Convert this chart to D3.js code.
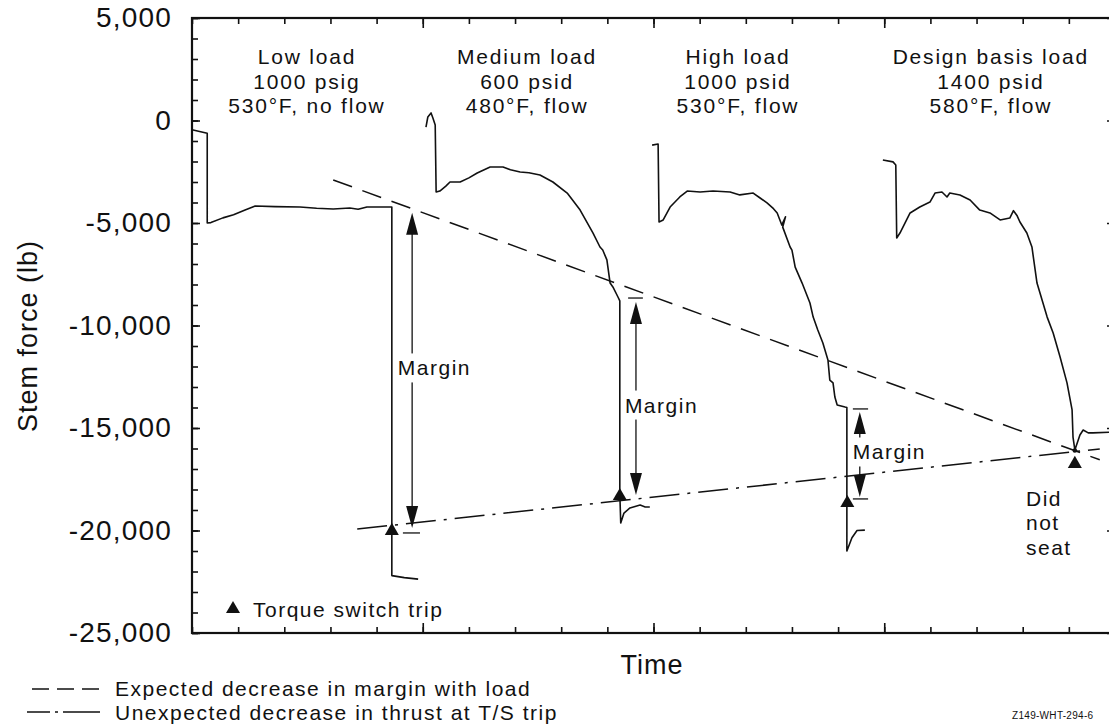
<!DOCTYPE html>
<html><head><meta charset="utf-8">
<script src="https://cdn.jsdelivr.net/npm/d3@7"></script>
<style>
body{margin:0;background:#fff}
svg{display:block}
text{font-family:"Liberation Sans",Arial,Helvetica,sans-serif;fill:#111}
</style>
</head><body>
<svg id="c" width="1109" height="725"></svg>
<script>
// ---------- data (time in arbitrary units, stem force in lb) ----------
const lowLoad = [[0,-450],[0.33,-620],[0.33,-5000],[0.41,-4980],[0.67,-4750],[0.9,-4600],[1.15,-4370],[1.37,-4170],[1.8,-4200],[2.34,-4220],[2.7,-4280],[3.06,-4320],[3.42,-4270],[3.6,-4330],[3.79,-4220],[4.33,-4220],[4.33,-22200],[4.6,-22300],[4.9,-22370]];
const mediumLoad = [[5.07,-320],[5.11,170],[5.18,370],[5.22,120],[5.27,-220],[5.29,-3490],[5.37,-3440],[5.5,-3200],[5.59,-3000],[5.81,-3000],[6.0,-2800],[6.18,-2560],[6.46,-2270],[6.74,-2270],[6.9,-2400],[7.11,-2510],[7.3,-2550],[7.54,-2660],[7.82,-3000],[8.13,-3540],[8.41,-4370],[8.69,-5490],[8.84,-6170],[8.9,-6320],[8.99,-6800],[9.06,-7930],[9.12,-8120],[9.23,-8610],[9.27,-8800],[9.27,-18200],[9.29,-19630],[9.36,-19150],[9.49,-18900],[9.71,-18760],[9.82,-18850],[9.92,-18850]];
const highLoad = [[9.97,-1200],[10.1,-1150],[10.12,-4950],[10.21,-4850],[10.36,-4220],[10.57,-3730],[10.73,-3440],[11.01,-3490],[11.29,-3440],[11.66,-3490],[11.87,-3630],[12.16,-3540],[12.31,-3780],[12.46,-4020],[12.6,-4300],[12.68,-4510],[12.78,-5100],[12.86,-4700],[12.8,-5200],[12.96,-6170],[13.0,-6320],[13.07,-7150],[13.22,-7930],[13.39,-8900],[13.46,-9590],[13.56,-10220],[13.67,-10850],[13.78,-11680],[13.82,-12660],[13.89,-12800],[13.93,-13490],[13.98,-13880],[14.15,-13980],[14.19,-14000],[14.19,-21000],[14.3,-20350],[14.41,-20000],[14.58,-19980]];
const designLoad = [[14.97,-1930],[15.19,-2020],[15.25,-2170],[15.27,-5730],[15.34,-5490],[15.56,-4510],[15.77,-4220],[15.99,-3980],[16.1,-3540],[16.25,-3490],[16.3,-3600],[16.36,-3730],[16.42,-3540],[16.64,-3630],[16.86,-3880],[17.07,-4370],[17.29,-4510],[17.51,-4850],[17.72,-4760],[17.8,-4400],[17.88,-4650],[17.94,-4950],[18.09,-5490],[18.2,-6170],[18.31,-7930],[18.53,-9590],[18.66,-10370],[18.81,-11540],[18.96,-12800],[19.07,-14120],[19.09,-15440],[19.13,-16070],[19.24,-15340],[19.31,-15100],[19.42,-15240],[19.52,-15240],[20,-15200]];
const expectedLine = [[3.06,-2900],[19.67,-16550]];
const unexpectedLine = [[3.58,-19930],[19.67,-16020]];
const tripPoints = [[4.33,-20020],[9.27,-18320],[14.2,-18660],[19.13,-16750]];
const marginArrows = [
  {t:4.77, top:-4500, bottom:-19880, barTop:null, barBottom:-20120, barFrom:4.57, barTo:4.94, labelV:-12070, labelT:4.46},
  {t:9.62, top:-8850, bottom:-18270, barTop:-8660, barBottom:null, barFrom:9.45, barTo:9.77, labelV:-13880, labelT:9.38},
  {t:14.47, top:-14220, bottom:-18370, barTop:-14070, barBottom:-18460, barFrom:14.32, barTo:14.65, labelV:-16170, labelT:14.32}
];
const loadLabels = [["Low load","1000 psig","530°F, no flow"],["Medium load","600 psid","480°F, flow"],["High load","1000 psid","530°F, flow"],["Design basis load","1400 psid","580°F, flow"]];
const loadLabelTime = [2.49, 7.26, 11.83, 17.31];
const loadLabelForce = 3100;
const yMajorTicks = [5000,0,-5000,-10000,-15000,-20000,-25000];
const yMinorTicks = d3.range(-25000, 5001, 1000);
const xMinorTicks = d3.range(0, 21, 1);
const xMajorTicks = [5,10,15,20];
const legendItems = ["Expected decrease in margin with load","Unexpected decrease in thrust at T/S trip"];

// ---------- drawing ----------
const svg = d3.select("#c");
const x = d3.scaleLinear().domain([0,20]).range([192,1115]);
const y = d3.scaleLinear().domain([-25000,5000]).range([633,18]);
const ink = "#111";
const fmt = v => (v<0?"-":"") + d3.format(",")(Math.abs(v));

function styleAxis(g){ g.select(".domain").remove(); g.selectAll(".tick line").attr("stroke",ink).attr("stroke-width",1.6); }

// left axis
svg.append("g").attr("transform","translate(192,0)")
  .call(d3.axisLeft(y).tickValues(yMinorTicks).tickSize(-6).tickFormat(""))
  .call(styleAxis);
svg.append("g").attr("transform","translate(192,0)")
  .call(d3.axisLeft(y).tickValues(yMajorTicks).tickSize(-8).tickPadding(20).tickFormat(fmt))
  .call(styleAxis)
  .call(g=>g.selectAll("text").attr("font-size",28).attr("letter-spacing","1.2px").attr("fill",ink)
        .attr("font-family","'Liberation Sans',Arial,sans-serif"));
// right axis (major only)
svg.append("g").attr("transform","translate(1115,0)")
  .call(d3.axisRight(y).tickValues(yMajorTicks).tickSize(-8).tickFormat(""))
  .call(styleAxis);
// top & bottom ticks
svg.append("g").attr("transform","translate(0,18)")
  .call(d3.axisTop(x).tickValues(xMinorTicks).tickSize(-6).tickFormat("")).call(styleAxis);
svg.append("g").attr("transform","translate(0,18)")
  .call(d3.axisTop(x).tickValues(xMajorTicks).tickSize(-10).tickFormat("")).call(styleAxis);
svg.append("g").attr("transform","translate(0,633)")
  .call(d3.axisBottom(x).tickValues(xMinorTicks).tickSize(-6).tickFormat("")).call(styleAxis);
svg.append("g").attr("transform","translate(0,633)")
  .call(d3.axisBottom(x).tickValues(xMajorTicks).tickSize(-10).tickFormat("")).call(styleAxis);

// frame
svg.append("rect").attr("x",x(0)).attr("y",y(5000)).attr("width",x(20)-x(0)).attr("height",y(-25000)-y(5000))
  .attr("fill","none").attr("stroke",ink).attr("stroke-width",2.2);

// axis titles
svg.append("text").attr("transform","translate(37,336) rotate(-90)").attr("text-anchor","middle")
  .attr("font-size",27).attr("letter-spacing","1px").text("Stem force (lb)");
svg.append("text").attr("x",652).attr("y",674).attr("text-anchor","middle")
  .attr("font-size",27).attr("letter-spacing","1px").text("Time");

const line = d3.line().x(d=>x(d[0])).y(d=>y(d[1]));

// reference lines
svg.append("path").datum(expectedLine).attr("d",line).attr("fill","none").attr("stroke",ink)
  .attr("stroke-width",1.5).attr("stroke-dasharray","20,11");
svg.append("path").datum(unexpectedLine).attr("d",line).attr("fill","none").attr("stroke",ink)
  .attr("stroke-width",1.5).attr("stroke-dasharray","30,8,3,8");

// curves
[lowLoad, mediumLoad, highLoad, designLoad].forEach(c=>{
  svg.append("path").datum(c).attr("d",line).attr("fill","none").attr("stroke",ink)
    .attr("stroke-width",1.6).attr("stroke-linejoin","round");
});
svg.append("circle").attr("cx",x(19.13)).attr("cy",y(-16100)).attr("r",2.3).attr("fill",ink);

// trip markers
const tri = d3.symbol(d3.symbolTriangle, 85);
svg.selectAll(".trip").data(tripPoints).join("path").attr("class","trip")
  .attr("d",tri).attr("transform",d=>`translate(${x(d[0])},${y(d[1])})`).attr("fill",ink);

// margin arrows
function head(px,py,dir){ // dir -1 up, +1 down ; tip at (px,py)
  const w=6, h=22;
  return `M${px},${py} L${px-w},${py-dir*h} L${px+w},${py-dir*h} Z`;
}
marginArrows.forEach(a=>{
  const px = x(a.t);
  svg.append("line").attr("x1",px).attr("x2",px).attr("y1",y(a.top)+10).attr("y2",y(a.bottom)-10)
    .attr("stroke",ink).attr("stroke-width",1.3);
  svg.append("path").attr("d",head(px,y(a.top),-1)).attr("fill",ink);
  svg.append("path").attr("d",head(px,y(a.bottom),1)).attr("fill",ink);
  [a.barTop,a.barBottom].forEach(b=>{
    if(b===null) return;
    svg.append("line").attr("x1",x(a.barFrom)).attr("x2",x(a.barTo)).attr("y1",y(b)).attr("y2",y(b))
      .attr("stroke",ink).attr("stroke-width",1.3);
  });
  const t = svg.append("text").attr("x",x(a.labelT)).attr("y",y(a.labelV)+7.5)
    .attr("font-size",21).attr("letter-spacing","1.5px").text("Margin");
  const bb = t.node().getBBox();
  svg.insert("rect", () => t.node()).attr("x",bb.x-1).attr("y",bb.y-3).attr("width",bb.width+2).attr("height",bb.height+6).attr("fill","#fff");
});

// load labels
loadLabels.forEach((lines,i)=>{
  const t = svg.append("text").attr("text-anchor","middle").attr("font-size",21).attr("letter-spacing","1.8px");
  lines.forEach((s,j)=>{
    t.append("tspan").attr("x",x(loadLabelTime[i])).attr("y",y(loadLabelForce)+7.5+j*24.5).text(s);
  });
});

// did not seat
["Did","not","seat"].forEach((s,j)=>{
  svg.append("text").attr("x",1026).attr("y",505.5+j*24.5).attr("font-size",21).attr("letter-spacing","1.5px").text(s);
});

// torque switch legend
svg.append("path").attr("d",tri).attr("transform","translate(233,609)").attr("fill",ink);
svg.append("text").attr("x",253).attr("y",617).attr("font-size",21).attr("letter-spacing","1.5px").text("Torque switch trip");

// bottom legend
svg.append("line").attr("x1",32).attr("x2",100).attr("y1",689).attr("y2",689).attr("stroke",ink)
  .attr("stroke-width",1.6).attr("stroke-dasharray","17,8");
svg.append("line").attr("x1",27).attr("x2",100).attr("y1",712).attr("y2",712).attr("stroke",ink)
  .attr("stroke-width",1.6).attr("stroke-dasharray","23,5,3,5,40");
legendItems.forEach((s,j)=>{
  svg.append("text").attr("x",115).attr("y",696+j*23.5).attr("font-size",21).attr("letter-spacing","1.5px").text(s);
});

// figure id
svg.append("text").attr("x",1012).attr("y",719).attr("font-size",10).attr("letter-spacing","0.3px").text("Z149-WHT-294-6");
</script>
</body></html>
